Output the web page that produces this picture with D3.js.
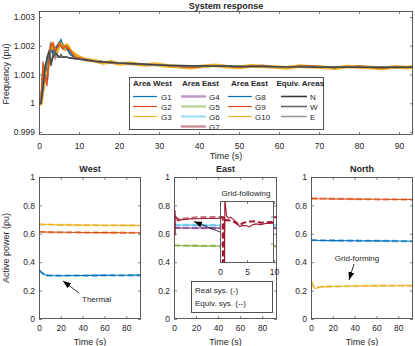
<!DOCTYPE html>
<html>
<head>
<meta charset="utf-8">
<script src="https://cdn.jsdelivr.net/npm/d3@7"></script>
<style>
body { margin: 0; background: #fff; }
text { font-family: "Liberation Sans", Arial, Helvetica, sans-serif; fill: #262626; }
</style>
</head>
<body>
<div id="graphicContainer"></div>
<script>
// ---- data ----
// frequency: shared time axis, early transient per generator + tail
var tF = [0,0.5,1,1.5,2,2.5,3,3.5,4,4.5,5,5.5,6,6.5,7,7.5,8,9,10,
          12,14,16,18,20,23,26,29,32,35,38,41,44,47,50,53,56,59,62,65,68,71,74,77,80,83,86,89,92,94];

var fG1  = [1.0000,1.0000,1.0008,1.0010,1.0014,1.0016,1.0019,1.0017,1.0018,1.0020,1.0021,1.00222,1.0020,1.0019,1.00195,1.0018,1.0017,1.0016,1.00157];
var fG2  = [1.0000,1.0001,1.00145,1.0009,1.0006,1.0016,1.0020,1.0021,1.0018,1.0019,1.0021,1.0020,1.0019,1.0020,1.0020,1.0019,1.0018,1.0016,1.00158];
var fG3  = [1.0000,1.0000,1.0006,1.0011,1.0010,1.0017,1.0019,1.0021,1.0019,1.0017,1.0020,1.0021,1.0020,1.0019,1.0020,1.0020,1.0018,1.0017,1.0016];
var fG4  = [1.0000,1.0000,1.0010,1.0012,1.0008,1.0015,1.0020,1.0019,1.0017,1.0019,1.0020,1.0021,1.0019,1.0019,1.0019,1.0018,1.0017,1.0016,1.00155];
var fG5  = [1.0000,1.0000,1.0009,1.0013,1.0009,1.0016,1.00215,1.0019,1.0016,1.0019,1.0020,1.0021,1.0019,1.0019,1.0019,1.0018,1.0017,1.0016,1.00155];
var fG6  = [1.0000,1.0000,1.0009,1.0012,1.0009,1.0015,1.0020,1.0019,1.0017,1.0018,1.0020,1.0021,1.0019,1.0019,1.0019,1.0018,1.0017,1.0016,1.00155];
var fG7  = [1.0000,1.0000,1.0011,1.0011,1.0008,1.0015,1.0021,1.0018,1.0016,1.0019,1.0020,1.0020,1.0019,1.0019,1.0019,1.0018,1.0017,1.0016,1.00155];
var fG8  = [1.0000,1.0000,1.0007,1.0010,1.0013,1.0016,1.0018,1.0018,1.0019,1.0020,1.0021,1.0021,1.0020,1.0019,1.0019,1.0018,1.0017,1.0016,1.00156];
var fG9  = [1.0000,1.0001,1.0012,1.0009,1.0008,1.0016,1.0020,1.0020,1.0018,1.0019,1.0020,1.0020,1.0019,1.0020,1.0019,1.0019,1.0018,1.0016,1.00157];
var fG10 = [0.99995,1.0000,1.0005,1.0011,1.0011,1.0017,1.0019,1.0020,1.0019,1.0018,1.0020,1.0021,1.0020,1.0019,1.0020,1.0019,1.0018,1.0017,1.0016];
var fN   = [1.0000,1.0000,1.0005,1.0012,1.0016,1.0018,1.0014,1.0016,1.0017,1.0017,1.0016,1.0017,1.0016,1.00162,1.0016,1.00159,1.00158,1.00156,1.00154];
var fW   = [1.0000,1.0000,1.0006,1.0013,1.0015,1.0017,1.0013,1.0017,1.0018,1.0017,1.0016,1.0016,1.0016,1.0016,1.0016,1.00158,1.00157,1.00155,1.00153];
var fE   = [1.0000,1.0000,1.0004,1.0011,1.0016,1.0018,1.0015,1.0016,1.0017,1.0016,1.0016,1.0016,1.0016,1.0016,1.0016,1.00158,1.00157,1.00155,1.00154];

var fTailGen = [1.00152,1.00146,1.00143,1.00141,1.00140,1.00137,1.00135,1.00133,1.00132,1.00128,1.00126,1.00128,1.00131,1.00129,1.00126,
                1.00128,1.00130,1.00127,1.00125,1.00128,1.00129,1.00126,1.00124,1.00127,1.00128,1.00125,1.00123,1.00126,1.00125,1.00127];
var fTailYel = [1.00150,1.00148,1.00140,1.00144,1.00137,1.00139,1.00133,1.00136,1.00130,1.00127,1.00124,1.00129,1.00132,1.00127,1.00125,
                1.00130,1.00128,1.00126,1.00123,1.00129,1.00127,1.00125,1.00122,1.00128,1.00126,1.00124,1.00121,1.00127,1.00124,1.00128];
var fTailEq  = [1.00150,1.00146,1.00144,1.00142,1.00140,1.00138,1.00136,1.00134,1.00132,1.00131,1.00130,1.00130,1.00129,1.00129,1.00128,
                1.00128,1.00128,1.00127,1.00127,1.00127,1.00126,1.00126,1.00126,1.00126,1.00125,1.00125,1.00125,1.00125,1.00125,1.00125];

// active power
var tP    = [0,0.45,0.5,0.55,0.8,0.85,0.9,1.2,1.6,2,2.5,3,3.6,4.2,5,5.4,6,6.6,7.5,8.5,10,15,20,30,40,50,60,70,80,94];
var tFlat = [0,10,20,40,60,80,94];

var pG1    = [0.34,0.339,0.339,0.339,0.338,0.338,0.338,0.336,0.333,0.331,0.327,0.324,0.32,0.317,0.313,0.312,0.31,0.309,0.308,0.307,0.306,0.305,0.305,0.306,0.306,0.307,0.307,0.308,0.308,0.309];
var pG1eq  = [0.338,0.338,0.338,0.337,0.337,0.337,0.337,0.335,0.333,0.33,0.327,0.324,0.321,0.318,0.315,0.313,0.311,0.31,0.308,0.307,0.306,0.305,0.305,0.305,0.306,0.306,0.307,0.307,0.308,0.308];
var pG2    = [0.614,0.612,0.611,0.609,0.608,0.607,0.607];
var pG2eq  = [0.613,0.611,0.610,0.609,0.608,0.607,0.606];
var pG3    = [0.667,0.665,0.663,0.661,0.660,0.659,0.658];
var pG3eq  = [0.666,0.664,0.663,0.661,0.660,0.659,0.658];
var pG4    = [0.642,0.641,0.641,0.640,0.640,0.640,0.640];
var pG4eq  = [0.643,0.642,0.641,0.641,0.640,0.640,0.640];
var pG5    = [0.518,0.516,0.515,0.514,0.513,0.513,0.512];
var pG5eq  = [0.519,0.517,0.516,0.514,0.513,0.513,0.512];
var pG6    = [0.662,0.661,0.661,0.660,0.660,0.660,0.660];
var pG6eq  = [0.664,0.663,0.662,0.661,0.661,0.660,0.660];
var pG7    = [0.718,0.718,0.718,0.718,0.718,0.59,0.765,0.722,0.716,0.718,0.712,0.707,0.694,0.697,0.696,0.693,0.698,0.701,0.699,0.702,0.703,0.705,0.706,0.708,0.71,0.712,0.713,0.714,0.715,0.716];
var pG7eq  = [0.718,0.718,0.718,0.59,0.71,0.71,0.71,0.711,0.71,0.71,0.707,0.703,0.697,0.703,0.706,0.707,0.707,0.708,0.704,0.705,0.706,0.712,0.715,0.717,0.718,0.718,0.718,0.718,0.718,0.718];
var pG8    = [0.555,0.553,0.552,0.551,0.550,0.549,0.548];
var pG8eq  = [0.556,0.554,0.553,0.551,0.550,0.549,0.548];
var pG9    = [0.848,0.847,0.846,0.844,0.843,0.842,0.841];
var pG9eq  = [0.849,0.848,0.846,0.845,0.843,0.842,0.841];
var pG10   = [0.25,0.25,0.25,0.25,0.25,0.25,0.258,0.25,0.24,0.232,0.225,0.22,0.216,0.215,0.217,0.218,0.22,0.222,0.224,0.225,0.226,0.228,0.229,0.231,0.232,0.233,0.233,0.234,0.234,0.235];
var pG10eq = [0.25,0.25,0.25,0.25,0.25,0.25,0.252,0.248,0.242,0.236,0.229,0.224,0.22,0.219,0.22,0.221,0.222,0.223,0.225,0.226,0.227,0.228,0.23,0.231,0.232,0.233,0.234,0.234,0.235,0.235];

var legWest = ['G1','G2','G3'],
    legEast = ['G4','G5','G6','G7'],
    legNorth = ['G8','G9','G10'],
    legEq = ['N','W','E'];
var freqTicksY = [0.999,1,1.001,1.002,1.003],
    freqTicksX = [0,10,20,30,40,50,60,70,80,90],
    powTicksY = [0,0.2,0.4,0.6,0.8,1],
    powTicksX = [0,20,40,60,80],
    insetTicksX = [0,5,10];

// ---- drawing ----
var colG = ['#0072BD','#D95319','#EDB120','#7E2F8E','#77AC30','#4DBEEE','#A2142F','#0072BD','#D95319','#EDB120'],
    colEq = ['#3a3a3a','#666666','#9a9a9a'],
    axCol = '#4d4d4d';

var svg = d3.select("#graphicContainer").append("svg")
    .attr("width", 415).attr("height", 346);

svg.append("defs").append("marker")
    .attr("id", "arrow").attr("markerUnits", "userSpaceOnUse")
    .attr("viewBox", "0 0 8 6").attr("refX", 8).attr("refY", 3)
    .attr("markerWidth", 8).attr("markerHeight", 6).attr("orient", "auto")
    .append("path").attr("d", "M0,0L8,3L0,6z").attr("fill", "#000");

var clipN = 0;
function panel(box, xDom, yDom) {
    var p = {};
    p.box = box;
    p.x = d3.scaleLinear().domain(xDom).range([box.x0, box.x1]);
    p.y = d3.scaleLinear().domain(yDom).range([box.y1, box.y0]);
    var id = "clip" + (clipN++);
    svg.append("clipPath").attr("id", id).append("rect")
        .attr("x", box.x0).attr("y", box.y0)
        .attr("width", box.x1 - box.x0).attr("height", box.y1 - box.y0);
    svg.append("rect").attr("x", box.x0).attr("y", box.y0)
        .attr("width", box.x1 - box.x0).attr("height", box.y1 - box.y0)
        .attr("fill", "#fff");
    p.g = svg.append("g").attr("clip-path", "url(#" + id + ")");
    return p;
}

function frame(p, xTicks, yTicks, yFmt, xPad, showY) {
    var b = p.box, tk = 3;
    var gx = svg.append("g").attr("transform", "translate(0," + b.y1 + ")")
        .call(d3.axisBottom(p.x).tickValues(xTicks).tickSizeInner(-tk).tickSizeOuter(0).tickPadding(xPad));
    svg.append("g").attr("transform", "translate(0," + b.y0 + ")")
        .call(d3.axisTop(p.x).tickValues(xTicks).tickSizeInner(-tk).tickSizeOuter(0).tickFormat(""));
    var gy = svg.append("g").attr("transform", "translate(" + b.x0 + ",0)")
        .call(d3.axisLeft(p.y).tickValues(yTicks).tickSizeInner(-tk).tickSizeOuter(0).tickPadding(4)
            .tickFormat(showY ? yFmt : ""));
    svg.append("g").attr("transform", "translate(" + b.x1 + ",0)")
        .call(d3.axisRight(p.y).tickValues(yTicks).tickSizeInner(-tk).tickSizeOuter(0).tickFormat(""));
    svg.selectAll(".domain").remove();
    svg.selectAll(".tick line").attr("stroke", axCol).attr("stroke-width", 0.7);
    gx.selectAll("text").attr("font-size", "8.5px").attr("fill", "#262626").attr("font-family", null);
    gy.selectAll("text").attr("font-size", "8.5px").attr("fill", "#262626").attr("font-family", null);
    svg.append("rect").attr("x", b.x0 + 0.5).attr("y", b.y0 + 0.5)
        .attr("width", b.x1 - b.x0 - 1).attr("height", b.y1 - b.y0 - 1)
        .attr("fill", "none").attr("stroke", axCol).attr("stroke-width", 0.9);
}

function lineGen(p, ts) {
    return d3.line().x(function(d, i) { return p.x(ts[i]); }).y(function(d) { return p.y(d); });
}

function txt(x, y, s, size, anchor, weight) {
    return svg.append("text").attr("x", x).attr("y", y).text(s)
        .attr("font-size", size).attr("text-anchor", anchor || "start")
        .attr("font-weight", weight || "normal");
}

function fmtNum(d) { return String(+d.toFixed(3)); }

// ---- top: frequency ----
var freqAx = panel({x0: 39, x1: 413, y0: 11, y1: 135}, [0, 93.5], [0.998896, 1.003209]);

var freqSeries = [
    {v: fG4.concat(fTailGen), c: colG[3], w: 2.2, o: 0.5},
    {v: fG5.concat(fTailGen), c: colG[4], w: 2.2, o: 0.5},
    {v: fG6.concat(fTailGen), c: colG[5], w: 2.2, o: 0.5},
    {v: fG7.concat(fTailGen), c: colG[6], w: 2.2, o: 0.5},
    {v: fG10.concat(fTailYel), c: colG[9], w: 3.6, o: 1},
    {v: fG1.concat(fTailGen), c: colG[0], w: 1.2, o: 1},
    {v: fG8.concat(fTailGen), c: colG[7], w: 1.2, o: 1},
    {v: fG3.concat(fTailGen), c: colG[2], w: 1.2, o: 1},
    {v: fG2.concat(fTailGen), c: colG[1], w: 1.2, o: 1},
    {v: fG9.concat(fTailGen), c: colG[8], w: 1.2, o: 1},
    {v: fE.concat(fTailEq), c: colEq[2], w: 1.6, o: 1},
    {v: fW.concat(fTailEq), c: colEq[1], w: 1.6, o: 1},
    {v: fN.concat(fTailEq), c: colEq[0], w: 1.2, o: 0.8}
];

freqAx.g.selectAll(".freqLine")
    .data(freqSeries)
    .enter().append("path")
    .attr("class", "freqLine")
    .attr("d", function(d) { return lineGen(freqAx, tF)(d.v); })
    .attr("fill", "none")
    .attr("stroke", function(d) { return d.c; })
    .attr("stroke-width", function(d) { return d.w; })
    .attr("stroke-opacity", function(d) { return d.o; });

frame(freqAx, freqTicksX, freqTicksY, fmtNum, 8, true);

txt(226, 9, "System response", "9px", "middle", "bold");
txt(226, 158.5, "Time (s)", "9px", "middle");
svg.append("text").attr("transform", "translate(8.5,74) rotate(-90)")
    .attr("text-anchor", "middle").attr("font-size", "9px").text("Frequency (pu)");

// legend
var leg = svg.append("g");
leg.append("rect").attr("x", 129.5).attr("y", 77.5).attr("width", 194).attr("height", 52)
    .attr("fill", "#fff").attr("stroke", "#404040").attr("stroke-width", 0.9);

var legCols = [
    {head: "Area West", hx: 133, lx0: 133, lx1: 157, tx: 161, items: legWest, cols: [0, 1, 2], w: 1.2, o: 1, colr: colG},
    {head: "Area East", hx: 182, lx0: 181, lx1: 206, tx: 209, items: legEast, cols: [3, 4, 5, 6], w: 2.4, o: 0.5, colr: colG},
    {head: "Area East", hx: 231, lx0: 228, lx1: 252, tx: 255, items: legNorth, cols: [7, 8, 9], w: 1.2, o: 1, colr: colG},
    {head: "Equiv. Areas", hx: 276.5, lx0: 281, lx1: 307, tx: 310, items: legEq, cols: [0, 1, 2], w: 1.6, o: 1, colr: colEq}
];
legCols.forEach(function(c) {
    leg.append("text").attr("x", c.hx).attr("y", 86).attr("font-size", "8px")
        .attr("font-weight", "bold").text(c.head);
    c.items.forEach(function(name, i) {
        var yy = 96.5 + i * 10;
        leg.append("line").attr("x1", c.lx0).attr("x2", c.lx1).attr("y1", yy).attr("y2", yy)
            .attr("stroke", c.colr[c.cols[i]]).attr("stroke-width", c.w).attr("stroke-opacity", c.o);
        leg.append("text").attr("x", c.tx).attr("y", yy + 3).attr("font-size", "8px").text(name);
    });
});

// ---- bottom: active power ----
function powerLines(p, series) {
    series.forEach(function(s) {
        p.g.append("path").attr("d", lineGen(p, s.t)(s.real))
            .attr("fill", "none").attr("stroke", s.c).attr("stroke-width", 1.1);
        p.g.append("path").attr("d", lineGen(p, s.t)(s.eq))
            .attr("fill", "none").attr("stroke", s.c).attr("stroke-width", 2.3)
            .attr("stroke-opacity", 0.6).attr("stroke-dasharray", "6,3");
    });
}

var west = panel({x0: 39, x1: 141, y0: 177, y1: 319}, [0, 93.5], [0, 1]),
    east = panel({x0: 174, x1: 277, y0: 177, y1: 319}, [0, 93.5], [0, 1]),
    north = panel({x0: 311, x1: 413, y0: 177, y1: 319}, [0, 93.5], [0, 1]);

powerLines(west, [
    {t: tFlat, real: pG3, eq: pG3eq, c: colG[2]},
    {t: tFlat, real: pG2, eq: pG2eq, c: colG[1]},
    {t: tP, real: pG1, eq: pG1eq, c: colG[0]}
]);
powerLines(east, [
    {t: tFlat, real: pG5, eq: pG5eq, c: colG[4]},
    {t: tFlat, real: pG4, eq: pG4eq, c: colG[3]},
    {t: tFlat, real: pG6, eq: pG6eq, c: colG[5]},
    {t: tP, real: pG7, eq: pG7eq, c: colG[6]}
]);
powerLines(north, [
    {t: tFlat, real: pG9, eq: pG9eq, c: colG[8]},
    {t: tFlat, real: pG8, eq: pG8eq, c: colG[7]},
    {t: tP, real: pG10, eq: pG10eq, c: colG[9]}
]);

[west, east, north].forEach(function(p) {
    frame(p, powTicksX, powTicksY, fmtNum, 6, true);
});

txt(90, 172, "West", "9px", "middle", "bold");
txt(225.5, 172, "East", "9px", "middle", "bold");
txt(362, 172, "North", "9px", "middle", "bold");
txt(90, 345, "Time (s)", "9px", "middle");
txt(225.5, 345, "Time (s)", "9px", "middle");
txt(362, 345, "Time (s)", "9px", "middle");
svg.append("text").attr("transform", "translate(8.5,248) rotate(-90)")
    .attr("text-anchor", "middle").attr("font-size", "9px").text("Active power (pu)");

// annotations
function arrow(x1, y1, x2, y2) {
    svg.append("line").attr("x1", x1).attr("y1", y1).attr("x2", x2).attr("y2", y2)
        .attr("stroke", "#000").attr("stroke-width", 0.8).attr("marker-end", "url(#arrow)");
}
txt(82, 302, "Thermal", "8px");
arrow(79, 293, 63, 281);
txt(357, 261, "Grid-forming", "8px", "middle");
arrow(354, 264, 349, 280);
arrow(220, 232, 194, 221.5);

// east inset (grid-following zoom)
var inset = panel({x0: 220, x1: 274, y0: 201, y1: 263}, [0, 10], [0.6, 0.76]);
inset.g.append("path").attr("d", lineGen(inset, tP)(pG7))
    .attr("fill", "none").attr("stroke", colG[6]).attr("stroke-width", 1.1);
inset.g.append("path").attr("d", lineGen(inset, tP)(pG7eq))
    .attr("fill", "none").attr("stroke", colG[6]).attr("stroke-width", 2)
    .attr("stroke-dasharray", "6,3");
frame(inset, insetTicksX, [0.65, 0.72], fmtNum, 6, false);
txt(246, 196, "Grid-following", "8px", "middle");

// east legend
svg.append("rect").attr("x", 191.5).attr("y", 281.5).attr("width", 81).attr("height", 31)
    .attr("fill", "#fff").attr("stroke", "#404040").attr("stroke-width", 0.9);
txt(195, 293, "Real sys. (-)", "8px");
txt(195, 306, "Equiv. sys. (--)", "8px");
</script>
</body>
</html>
